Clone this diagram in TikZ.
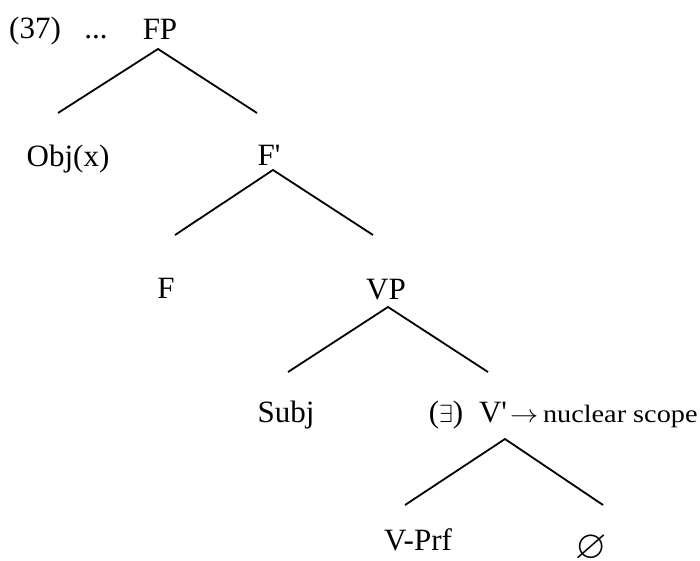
\documentclass[tikz,border=0pt]{standalone}
\usepackage{amssymb}
\usepackage{fontspec}
\setmainfont{Liberation Serif}
\newcommand{\pr}{\textquotesingle}
\begin{document}
\begin{tikzpicture}[x=1pt,y=-1pt,
  lab/.style={anchor=base,inner sep=0pt,font=\fontsize{31}{36}\selectfont},
  small/.style={anchor=base west,inner sep=0pt,font=\fontsize{25}{30}\selectfont},
  branch/.style={line width=1.8pt,line join=miter}]
\useasboundingbox (0,0) rectangle (700,561);
% labels
\node[lab] (ex) at (35,39) {(37)};
\node[lab] (dots) at (96,39) {...};
\node[lab] (FP) at (160,40) {FP};
\node[lab] (Obj) at (68,167) {Obj(x)};
\node[lab] (Fbar) at (269,166) {F\pr};
\node[lab] (F) at (166,298) {F};
\node[lab] (VP) at (386,299) {VP};
\node[lab] (Subj) at (286,422) {Subj};
\node[lab] (ex3) at (446,422) {($\exists$)};
\node[lab] (Vbar) at (493,422) {V\pr};
\node[small] (ns) at (510,422) {\scalebox{1.13}[1]{$\rightarrow$\,nuclear scope}};
\node[lab] (VPrf) at (418,550) {V-Prf};
\node[lab] (empty) at (591,558) {\scalebox{1.3}{$\varnothing$}};
% branch points
\coordinate (aFP) at (158,49);
\coordinate (lFP) at (58,113);
\coordinate (rFP) at (257,113);
\coordinate (aF) at (273,170);
\coordinate (lF) at (175,235);
\coordinate (rF) at (373,235);
\coordinate (aVP) at (388,307);
\coordinate (lVP) at (288,372);
\coordinate (rVP) at (488,372);
\coordinate (aV) at (505,439);
\coordinate (lV) at (405,505);
\coordinate (rV) at (603,505);
\draw[branch] (lFP) -- (aFP) -- (rFP);
\draw[branch] (lF) -- (aF) -- (rF);
\draw[branch] (lVP) -- (aVP) -- (rVP);
\draw[branch] (lV) -- (aV) -- (rV);
\end{tikzpicture}
\end{document}
